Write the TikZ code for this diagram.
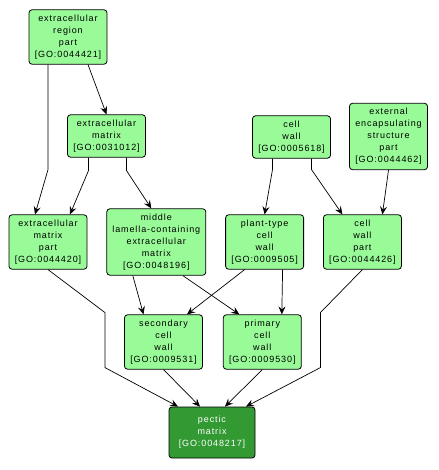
\documentclass[tikz,border=0pt]{standalone}
\usepackage{fontspec}
\usepackage{xcolor}
\usepackage{tikz}
\usetikzlibrary{arrows.meta, positioning}
\newfontfamily\gofont[LetterSpace=10]{Liberation Sans}
\definecolor{goleaf}{HTML}{98FB98}
\definecolor{goroot}{HTML}{339933}

\begin{document}
\begin{tikzpicture}[
    x=1pt, y=-1pt,
    term/.style={draw, rectangle, rounded corners=3pt, fill=goleaf, align=center, minimum width=78pt, inner xsep=2pt, inner ysep=5pt, line width=0.8pt, font=\fontsize{9}{12}\selectfont\gofont},
    focus/.style={term, fill=goroot, text=white, minimum width=86pt, minimum height=51pt},
    edge/.style={-{Stealth[length=8pt,width=7pt,inset=3pt]}, line width=0.7pt}
]
    \useasboundingbox (0,0) rectangle (438,470);
    % top rows
    \node[term] (erp) at (68,37) {extracellular\\region\\part\\{[GO:0044421]}};
    \node[term] (em) at (106.5,136) {extracellular\\matrix\\{[GO:0031012]}};
    \node[term] (cw) at (291.5,137) {cell\\wall\\{[GO:0005618]}};
    \node[term] (eesp) at (388.5,136.5) {external\\encapsulating\\structure\\part\\{[GO:0044462]}};
    % middle row
    \node[term] (emp) at (48,242) {extracellular\\matrix\\part\\{[GO:0044420]}};
    \node[term, minimum width=99pt, right=19pt of emp] (mlcem) {middle\\lamella-containing\\extracellular\\matrix\\{[GO:0048196]}};
    \node[term, right=19pt of mlcem] (ptcw) {plant-type\\cell\\wall\\{[GO:0009505]}};
    \node[term, right=19pt of ptcw] (cwp) {cell\\wall\\part\\{[GO:0044426]}};
    % lower rows
    \node[term] (scw) at (163.5,342) {secondary\\cell\\wall\\{[GO:0009531]}};
    \node[term, right=20pt of scw] (pcw) {primary\\cell\\wall\\{[GO:0009530]}};
    \node[focus] (pm) at (212,432.5) {pectic\\matrix\\{[GO:0048217]}};

    \draw[edge] ([xshift=20pt]erp.south) -- (em.north);
    \draw[edge] ([xshift=-20pt]erp.south) -- ++(0,105) -- ([xshift=-13pt]emp.north);
    \draw[edge] ([xshift=-18pt]em.south) -- ++(0,13) -- ([xshift=22pt]emp.north);
    \draw[edge] ([xshift=20pt]em.south) -- ++(0,13) -- ([xshift=-5pt]mlcem.north);
    \draw[edge] ([xshift=-19pt]cw.south) -- ++(0,11) -- (ptcw.north);
    \draw[edge] ([xshift=20pt]cw.south) -- ++(0,11) -- ([xshift=-20pt]cwp.north);
    \draw[edge] (eesp.south) -- ([xshift=20pt]cwp.north);
    \draw[edge] ([xshift=-23.5pt]mlcem.south) -- ([xshift=-20pt]scw.north);
    \draw[edge] ([xshift=26.5pt]mlcem.south) -- ([xshift=-23pt]pcw.north);
    \draw[edge] ([xshift=-20pt]ptcw.south) -- ([xshift=23.5pt]scw.north);
    \draw[edge] ([xshift=18pt]ptcw.south) -- ([xshift=19.5pt]pcw.north);
    \draw[edge] (emp.south) -- ++(57,43) -- ++(0,55) -- ([xshift=-34pt]pm.north);
    \draw[edge] (cwp.south) -- ++(-42,43) -- ++(0,55) -- ([xshift=34pt]pm.north);
    \draw[edge] (scw.south) -- ([xshift=-12pt]pm.north);
    \draw[edge] (pcw.south) -- ([xshift=13pt]pm.north);
\end{tikzpicture}
\end{document}
